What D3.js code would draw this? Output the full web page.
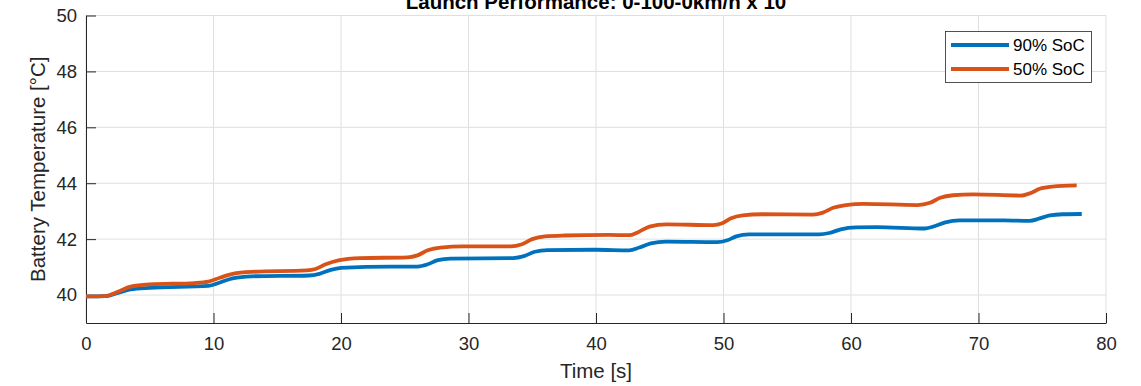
<!DOCTYPE html>
<html>
<head>
<meta charset="utf-8">
<script src="https://cdn.jsdelivr.net/npm/d3@7"></script>
<style>
  body { margin: 0; background: #fff; }
  svg { display: block; font-family: "Liberation Sans", Arial, sans-serif; }
</style>
</head>
<body>
<div id="chart"></div>
<script>
// data
var seriesNames = ["90% SoC", "50% SoC"];
var seriesColors = ["#0072BD", "#D95319"];

var time90 = [0, 1.5, 2.5, 3.5, 5, 9.6, 10.5, 11.5, 13, 17.5, 18.3, 19.2, 20, 22, 26, 26.8, 27.6, 28.6, 33.5, 34.4, 35.2, 36.2, 40, 42.6, 43.4, 44.3, 45.5, 49.5, 50.3, 51, 52, 57.5, 58.3, 59.2, 60.4, 62, 65.8, 66.6, 67.4, 68.5, 72, 74, 74.8, 75.6, 76.6, 78.1];
var temp90 = [39.95, 39.96, 40.08, 40.2, 40.26, 40.33, 40.45, 40.6, 40.67, 40.7, 40.76, 40.9, 40.97, 41.01, 41.02, 41.1, 41.25, 41.3, 41.32, 41.4, 41.55, 41.61, 41.62, 41.6, 41.7, 41.85, 41.91, 41.89, 41.96, 42.1, 42.17, 42.17, 42.22, 42.35, 42.42, 42.43, 42.38, 42.47, 42.6, 42.67, 42.67, 42.65, 42.74, 42.85, 42.89, 42.9];

var time50 = [0, 1.5, 2.5, 3.5, 5, 8.5, 9.6, 10.5, 11.5, 13, 17.3, 18, 18.8, 19.8, 21.5, 25.2, 26, 26.8, 27.8, 29.6, 33.3, 34.2, 35, 36, 37.5, 41, 42.6, 43.3, 44.2, 45.5, 49.2, 49.9, 50.6, 51.5, 53, 57, 57.8, 58.6, 59.6, 61, 65.2, 66.2, 67, 68, 69.6, 73.3, 74.1, 74.8, 75.8, 77.7];
var temp50 = [39.95, 39.96, 40.12, 40.3, 40.38, 40.43, 40.48, 40.62, 40.76, 40.83, 40.88, 40.93, 41.1, 41.24, 41.32, 41.35, 41.42, 41.6, 41.7, 41.74, 41.74, 41.82, 42.0, 42.1, 42.13, 42.15, 42.14, 42.25, 42.45, 42.53, 42.5, 42.57, 42.75, 42.85, 42.89, 42.88, 42.95, 43.12, 43.22, 43.26, 43.22, 43.3, 43.48, 43.57, 43.6, 43.56, 43.65, 43.8, 43.88, 43.92];

var xTicks = [0, 10, 20, 30, 40, 50, 60, 70, 80];
var yTicks = [40, 42, 44, 46, 48, 50];

var W = 1141, H = 386;
var pLeft = 86, pRight = 1106, pTop = 15.5, pBottom = 323;
var axisColor = "#262626";

var svg = d3.select("#chart").append("svg")
  .attr("width", W).attr("height", H);

svg.append("rect").attr("width", W).attr("height", H).style("fill", "white");

var x = d3.scaleLinear().domain([0, 80]).range([pLeft, pRight]);
var y = d3.scaleLinear().domain([39, 50]).range([pBottom, pTop]);

// grid
var grid = svg.append("g");
xTicks.forEach(function(t){
  grid.append("line")
    .attr("x1", x(t)).attr("x2", x(t))
    .attr("y1", pTop).attr("y2", pBottom)
    .attr("stroke", "#dfdfdf").attr("stroke-width", 1);
});
yTicks.forEach(function(t){
  grid.append("line")
    .attr("x1", pLeft).attr("x2", pRight)
    .attr("y1", y(t)).attr("y2", y(t))
    .attr("stroke", "#dfdfdf").attr("stroke-width", 1);
});

// axes, ticks pointing inward like matlab
var xAxis = svg.append("g")
  .attr("transform", "translate(0," + pBottom + ")")
  .call(d3.axisBottom(x).tickValues(xTicks).tickSize(-10).tickPadding(14).tickSizeOuter(0));
var yAxis = svg.append("g")
  .attr("transform", "translate(" + pLeft + ",0)")
  .call(d3.axisLeft(y).tickValues(yTicks).tickSize(-10).tickPadding(9).tickSizeOuter(0));

[xAxis, yAxis].forEach(function(a){
  a.select(".domain").attr("stroke", axisColor).attr("stroke-width", 1);
  a.selectAll(".tick line").attr("stroke", axisColor);
  a.selectAll(".tick text")
    .attr("fill", axisColor)
    .style("font-size", "18.5px")
    .style("font-family", "'Liberation Sans', Arial, sans-serif");
});

// lines
var line = d3.line()
  .x(function(d){ return x(d[0]); })
  .y(function(d){ return y(d[1]); })
  .curve(d3.curveMonotoneX);

var data90 = time90.map(function(t, i){ return [t, temp90[i]]; });
var data50 = time50.map(function(t, i){ return [t, temp50[i]]; });

svg.append("path").datum(data90)
  .attr("d", line).attr("fill", "none")
  .attr("stroke", seriesColors[0]).attr("stroke-width", 3.8);
svg.append("path").datum(data50)
  .attr("d", line).attr("fill", "none")
  .attr("stroke", seriesColors[1]).attr("stroke-width", 3.8);

// title & labels
svg.append("text")
  .attr("x", (pLeft + pRight) / 2).attr("y", 9)
  .attr("text-anchor", "middle")
  .style("font-size", "20.5px").style("font-weight", "bold")
  .attr("fill", "#000")
  .text("Launch Performance: 0-100-0km/h x 10");

svg.append("text")
  .attr("x", (pLeft + pRight) / 2).attr("y", 378)
  .attr("text-anchor", "middle")
  .style("font-size", "20.5px")
  .attr("fill", axisColor)
  .text("Time [s]");

svg.append("text")
  .attr("transform", "translate(45," + ((pTop + pBottom) / 2) + ") rotate(-90)")
  .attr("text-anchor", "middle")
  .style("font-size", "20.5px")
  .attr("fill", axisColor)
  .text("Battery Temperature [°C]");

// legend
var lg = svg.append("g");
lg.append("rect")
  .attr("x", 945.5).attr("y", 31.5).attr("width", 146).attr("height", 51)
  .attr("fill", "white").attr("stroke", axisColor).attr("stroke-width", 0.8);
seriesNames.forEach(function(name, i){
  var yy = 45 + i * 24;
  lg.append("line")
    .attr("x1", 951).attr("x2", 1009).attr("y1", yy).attr("y2", yy)
    .attr("stroke", seriesColors[i]).attr("stroke-width", 3.8);
  lg.append("text")
    .attr("x", 1013).attr("y", yy).attr("dy", "0.35em")
    .style("font-size", "17px").attr("fill", "#000")
    .text(name);
});
</script>
</body>
</html>
